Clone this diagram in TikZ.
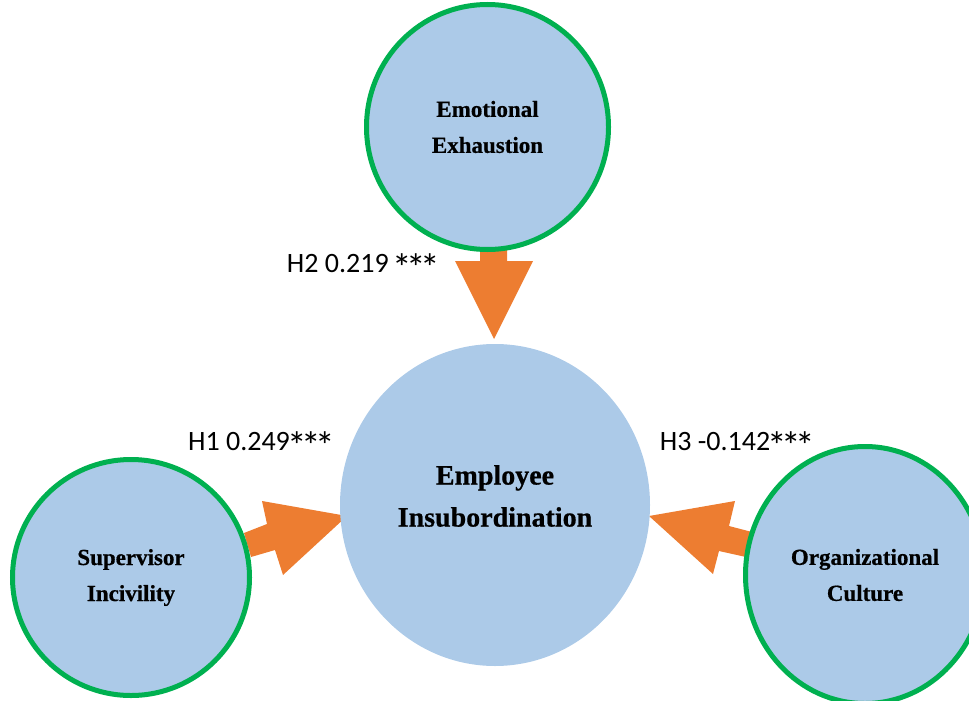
\documentclass[tikz,border=0pt]{standalone}
\usepackage{fontspec}
\usetikzlibrary{shapes.geometric}
\newfontfamily\serifbold[BoldFeatures={FakeBold=0.6}]{Liberation Serif}
\newfontfamily\labelfont{Carlito}
\newcommand\bigstar{\makebox[0.5em]{\raisebox{-0.33em}{\scalebox{1.4}{*}}}}
\definecolor{cfill}{RGB}{172,202,232}
\definecolor{cgreen}{RGB}{0,176,80}
\definecolor{corange}{RGB}{237,125,49}
\begin{document}
\begin{tikzpicture}[x=1pt,y=-1pt,
  construct/.style={ellipse, fill=cfill, draw=cgreen, line width=5pt, inner sep=0pt,
    align=center, font=\serifbold\bfseries\fontsize{23}{36}\selectfont},
  central/.style={ellipse, fill=cfill, inner sep=0pt},
  centraltext/.style={align=center, inner sep=0pt, font=\serifbold\bfseries\fontsize{28}{42}\selectfont},
  blockarrow/.style={fill=corange, draw=none},
  hyplabel/.style={font=\labelfont\fontsize{28}{32}\selectfont, inner sep=0pt}]
\useasboundingbox (0,0) rectangle (969,701);
% block arrows (drawn first, circles cover their tails)
\draw[blockarrow] (480,240) -- (507,240) -- (507,261) -- (533,261) -- (494,339) -- (455,261) -- (480,261) -- cycle;
\draw[blockarrow] (244,533) -- (267,524) -- (262,501) -- (347,516) -- (283,575) -- (275,550) -- (251,557) -- cycle;
\draw[blockarrow] (752,532) -- (729,526) -- (735,501) -- (649,516) -- (713,574) -- (719,551) -- (746,557) -- cycle;
% constructs
\node[construct, minimum width=242pt, minimum height=245pt] (ee) at (487.5,127) {Emotional\\Exhaustion};
\node[construct, minimum width=237pt, minimum height=236pt] (si) at (131,577.5) {Supervisor\\Incivility};
\node[construct, minimum width=239pt, minimum height=257pt] (oc) at (865,575) {Organizational\\Culture};
\node[central, minimum width=310pt, minimum height=322pt] (ei) at (495,505) {};
\node[centraltext] (eitext) at (495,496) {Employee\\Insubordination};
% hypothesis labels
\node[hyplabel] (h2) at (362,268) {H2 0.219 \bigstar\bigstar\bigstar};
\node[hyplabel] (h1) at (260,446) {H1 0.249\bigstar\bigstar\bigstar};
\node[hyplabel] (h3) at (736,446) {H3 -0.142\bigstar\bigstar\bigstar};
\end{tikzpicture}
\end{document}
